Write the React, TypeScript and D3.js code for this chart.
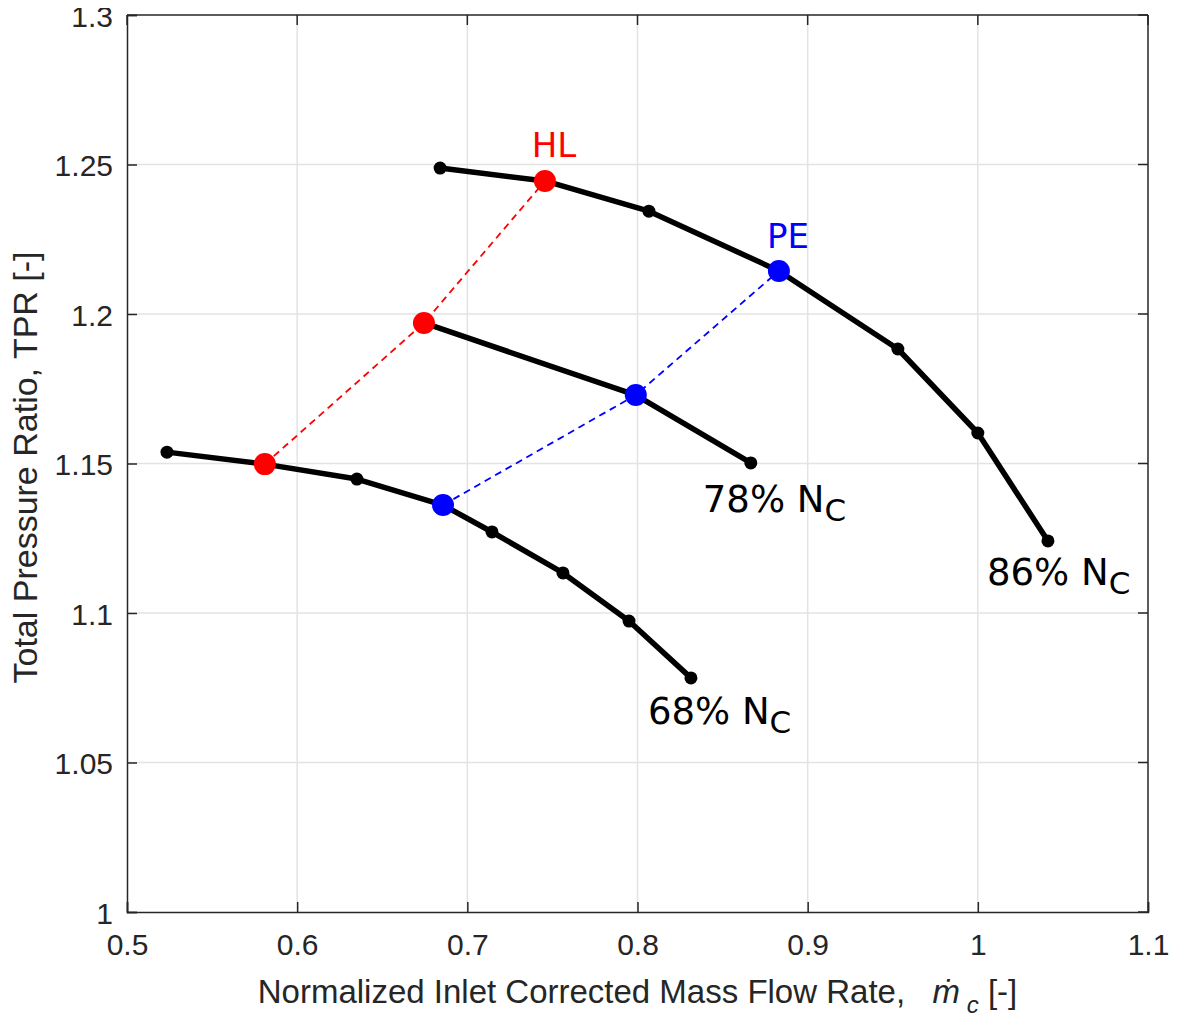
import React, { useEffect, useRef } from "react";
import * as d3 from "d3";

// speed lines (normalized corrected mass flow, TPR)
const speeds = ["68%", "78%", "86%"];
const flow68 = [0.5235, 0.581, 0.6351, 0.6857, 0.7145, 0.7562, 0.795, 0.8314];
const tpr68 = [1.1538, 1.1498, 1.1448, 1.1361, 1.1271, 1.1134, 1.0973, 1.0783];
const flow78 = [0.6745, 0.799, 0.8666];
const tpr78 = [1.197, 1.1729, 1.1502];
const flow86 = [0.684, 0.7456, 0.8067, 0.8831, 0.953, 1.0, 1.0412];
const tpr86 = [1.2488, 1.2445, 1.2344, 1.2144, 1.1883, 1.1602, 1.1241];

// operating points: HL (red) and PE (blue), one per speed line
const hlFlow = [0.581, 0.6745, 0.7456];
const hlTpr = [1.1498, 1.197, 1.2445];
const peFlow = [0.6857, 0.799, 0.8831];
const peTpr = [1.1361, 1.1729, 1.2144];

const xTicks = [0.5, 0.6, 0.7, 0.8, 0.9, 1, 1.1];
const yTicks = [1, 1.05, 1.1, 1.15, 1.2, 1.25, 1.3];

export default function App() {
  const ref = useRef<SVGSVGElement>(null);

  useEffect(() => {
    const width = 1179;
    const height = 1021;
    const margin = { top: 15, right: 31, bottom: 109, left: 127 };
    const innerWidth = width - margin.left - margin.right;
    const innerHeight = height - margin.top - margin.bottom;

    const svg = d3.select(ref.current);
    svg.selectAll("*").remove();
    const g = svg.append("g").attr("transform", `translate(${margin.left}, ${margin.top})`);

    const x = d3.scaleLinear().domain([0.5, 1.1]).range([0, innerWidth]);
    const y = d3.scaleLinear().domain([1, 1.3]).range([innerHeight, 0]);

    const axisColor = "#262626";
    const tickFont = "'Liberation Sans', Arial, sans-serif";

    // grid
    g.append("g")
      .selectAll("line")
      .data(xTicks.slice(1, -1))
      .enter()
      .append("line")
      .attr("x1", d => x(d)).attr("x2", d => x(d))
      .attr("y1", 0).attr("y2", innerHeight)
      .attr("stroke", "#e3e3e3").attr("stroke-width", 1.5);
    g.append("g")
      .selectAll("line")
      .data(yTicks.slice(1, -1))
      .enter()
      .append("line")
      .attr("y1", d => y(d)).attr("y2", d => y(d))
      .attr("x1", 0).attr("x2", innerWidth)
      .attr("stroke", "#e3e3e3").attr("stroke-width", 1.5);

    // axes (ticks inside)
    const xAxis = g.append("g")
      .attr("transform", `translate(0, ${innerHeight})`)
      .call(d3.axisBottom(x).tickValues(xTicks).tickSize(-10).tickPadding(22).tickFormat(d => String(+d)));
    const yAxis = g.append("g")
      .call(d3.axisLeft(y).tickValues(yTicks).tickSize(-10).tickPadding(14).tickFormat(d => String(+d)));
    [xAxis, yAxis].forEach(a => {
      a.select(".domain").attr("stroke", axisColor).attr("stroke-width", 1.5);
      a.selectAll(".tick line").attr("stroke", axisColor).attr("stroke-width", 1.5);
      a.selectAll(".tick text")
        .attr("fill", axisColor)
        .style("font-family", tickFont)
        .style("font-size", "30px");
    });
    xAxis.selectAll(".tick text").attr("dy", "0.71em");
    yAxis.selectAll(".tick text").attr("dy", "0.37em");

    // top and right box with ticks
    g.append("line").attr("x1", 0).attr("x2", innerWidth).attr("y1", 0).attr("y2", 0)
      .attr("stroke", axisColor).attr("stroke-width", 1.5);
    g.append("line").attr("x1", innerWidth).attr("x2", innerWidth).attr("y1", 0).attr("y2", innerHeight)
      .attr("stroke", axisColor).attr("stroke-width", 1.5);
    g.append("g").selectAll("line").data(xTicks).enter().append("line")
      .attr("x1", d => x(d)).attr("x2", d => x(d)).attr("y1", 0).attr("y2", 10)
      .attr("stroke", axisColor).attr("stroke-width", 1.5);
    g.append("g").selectAll("line").data(yTicks).enter().append("line")
      .attr("y1", d => y(d)).attr("y2", d => y(d)).attr("x1", innerWidth).attr("x2", innerWidth - 10)
      .attr("stroke", axisColor).attr("stroke-width", 1.5);

    const line = d3.line<[number, number]>().x(d => x(d[0])).y(d => y(d[1]));

    // dashed connections
    const hl = hlFlow.map((f, i) => [f, hlTpr[i]] as [number, number]);
    const pe = peFlow.map((f, i) => [f, peTpr[i]] as [number, number]);
    g.append("path").attr("d", line(hl)).attr("fill", "none")
      .attr("stroke", "#ff0000").attr("stroke-width", 1.8).attr("stroke-dasharray", "7,5");
    g.append("path").attr("d", line(pe)).attr("fill", "none")
      .attr("stroke", "#0000ff").attr("stroke-width", 1.8).attr("stroke-dasharray", "7,5");

    // speed lines
    const series = [
      flow68.map((f, i) => [f, tpr68[i]] as [number, number]),
      flow78.map((f, i) => [f, tpr78[i]] as [number, number]),
      flow86.map((f, i) => [f, tpr86[i]] as [number, number]),
    ];
    series.forEach(s => {
      g.append("path").attr("d", line(s)).attr("fill", "none")
        .attr("stroke", "#000").attr("stroke-width", 5.5).attr("stroke-linejoin", "round");
      g.append("g").selectAll("circle").data(s).enter().append("circle")
        .attr("cx", d => x(d[0])).attr("cy", d => y(d[1])).attr("r", 6.5).attr("fill", "#000");
    });

    // operating points
    g.append("g").selectAll("circle").data(hl).enter().append("circle")
      .attr("cx", d => x(d[0])).attr("cy", d => y(d[1])).attr("r", 11).attr("fill", "#ff0000");
    g.append("g").selectAll("circle").data(pe).enter().append("circle")
      .attr("cx", d => x(d[0])).attr("cy", d => y(d[1])).attr("r", 11).attr("fill", "#0000ff");

    const labelFont = "'DejaVu Sans', sans-serif";
    g.append("text")
      .attr("x", x(hlFlow[2]) + 9).attr("y", y(hlTpr[2]) - 24)
      .attr("text-anchor", "middle").attr("fill", "#ff0000")
      .style("font-family", labelFont).style("font-size", "34px").text("HL");
    g.append("text")
      .attr("x", x(peFlow[2]) + 9).attr("y", y(peTpr[2]) - 23)
      .attr("text-anchor", "middle").attr("fill", "#0000ff")
      .style("font-family", labelFont).style("font-size", "34px").text("PE");

    // speed labels, placed below each line's last point
    const labelOffset = [[-43, 46], [-48, 49], [-61, 44]];
    series.forEach((s, i) => {
      const e = s[s.length - 1];
      const t = g.append("text")
        .attr("x", x(e[0]) + labelOffset[i][0]).attr("y", y(e[1]) + labelOffset[i][1])
        .attr("fill", "#000")
        .style("font-family", labelFont).style("font-size", "37px");
      t.append("tspan").text(`${speeds[i]} N`);
      t.append("tspan").attr("dy", 9).style("font-size", "31px").text("C");
    });

    // axis titles
    const titleFont = "'Liberation Sans', Arial, sans-serif";
    const xt = svg.append("text")
      .attr("x", margin.left + innerWidth / 2).attr("y", 1003)
      .attr("text-anchor", "middle").attr("fill", axisColor)
      .style("font-family", titleFont).style("font-size", "33px");
    xt.append("tspan").text("Normalized Inlet Corrected Mass Flow Rate,\u00a0\u00a0\u00a0");
    xt.append("tspan").style("font-style", "italic").text("m\u0307");
    xt.append("tspan").attr("dy", 10).style("font-style", "italic").style("font-size", "24px").text("\u00a0c");
    xt.append("tspan").attr("dy", -10).text("\u00a0[-]");

    svg.append("text")
      .attr("transform", `translate(37, ${margin.top + innerHeight / 2 + 4}) rotate(-90)`)
      .attr("text-anchor", "middle").attr("fill", axisColor)
      .style("font-family", titleFont).style("font-size", "34px")
      .text("Total Pressure Ratio, TPR [-]");
  }, []);

  return (
    <div style={{ margin: -8 }}>
      <svg ref={ref} width={1179} height={1021} style={{ display: "block", background: "#fff" }} />
    </div>
  );
}
